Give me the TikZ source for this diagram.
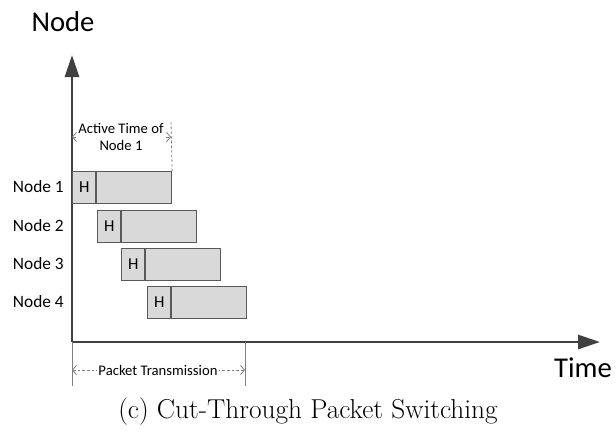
\documentclass[tikz,border=0pt]{standalone}
\usepackage{fontspec}
\newfontfamily\calib{Carlito}
\usetikzlibrary{arrows.meta}
\definecolor{axisgray}{HTML}{404040}
\definecolor{boxfill}{HTML}{D9D9D9}
\definecolor{boxline}{HTML}{595959}
\definecolor{dimgray}{HTML}{808080}

\begin{document}
\begin{tikzpicture}[x=0.75pt,y=-0.75pt,
  axis/.style={draw=axisgray, line width=2.2pt, -{Triangle[length=16.5pt,width=10.5pt]}},
  hdr/.style={draw=boxline, fill=boxfill, line width=0.8pt, minimum width=17.5pt,
    minimum height=24pt, inner sep=0pt, anchor=north west, font=\calib\fontsize{12.5}{14}\selectfont},
  body/.style={draw=boxline, fill=boxfill, line width=0.8pt, minimum width=56pt,
    minimum height=24pt, inner sep=0pt, anchor=west},
  rowlabel/.style={anchor=east, inner sep=0pt, font=\calib\fontsize{13}{15}\selectfont},
  biglabel/.style={inner sep=0pt, font=\calib\fontsize{21.5}{24}\selectfont},
  dimline/.style={draw=dimgray, line width=0.6pt, dash pattern=on 2pt off 1.5pt,
    {Straight Barb[length=3pt,width=7pt]}-{Straight Barb[length=3pt,width=7pt]}},
  guide/.style={draw=dimgray, line width=0.6pt},
  dimtext/.style={fill=white, inner sep=1pt, align=center, font=\calib\fontsize{11}{13}\selectfont},
]
\useasboundingbox (0,0) rectangle (616,437);

% axes
\coordinate (O) at (72,342);
\coordinate (ytip) at (72,55);
\coordinate (xtip) at (600,342);
\draw[axis] (O) -- (ytip);
\draw[axis] (O) -- (xtip);
\node[biglabel] (ylab) at (63,22) {Node};
\node[biglabel] (xlab) at (583,368) {Time};

% packets: header H followed by payload
\foreach \i/\x/\y in {1/72/171, 2/97/210, 3/121/248, 4/147/286} {
  \node[hdr] (h\i) at (\x,\y) {H};
  \node[body] (b\i) at (h\i.east) {};
  \node[rowlabel] (n\i) at (64,\y+16) {Node \i};
}

% active time of node 1
\coordinate (a0) at (72,137);
\coordinate (a1) at (171,137);
\coordinate (atop) at (171,122);
\draw[guide, dash pattern=on 2pt off 1.5pt] (atop) -- (b1.north east);
\draw[dimline] (a0) -- (a1);
\node[dimtext] (act) at (121,137) {Active Time of\\Node 1};

% packet transmission span
\coordinate (p0) at (72,370);
\coordinate (p1) at (245,370);
\coordinate (pl) at (72,386);
\coordinate (pt0) at (245,342);
\coordinate (pr) at (245,386);
\draw[guide] (O) -- (pl);
\draw[guide] (pt0) -- (pr);
\draw[dimline] (p0) -- (p1);
\node[dimtext] (pt) at (158,370) {Packet Transmission};

% caption
\node[inner sep=0pt, font=\fontsize{20.5}{24}\selectfont] (cap) at (308,412) {(c) Cut-Through Packet Switching};
\end{tikzpicture}
\end{document}
